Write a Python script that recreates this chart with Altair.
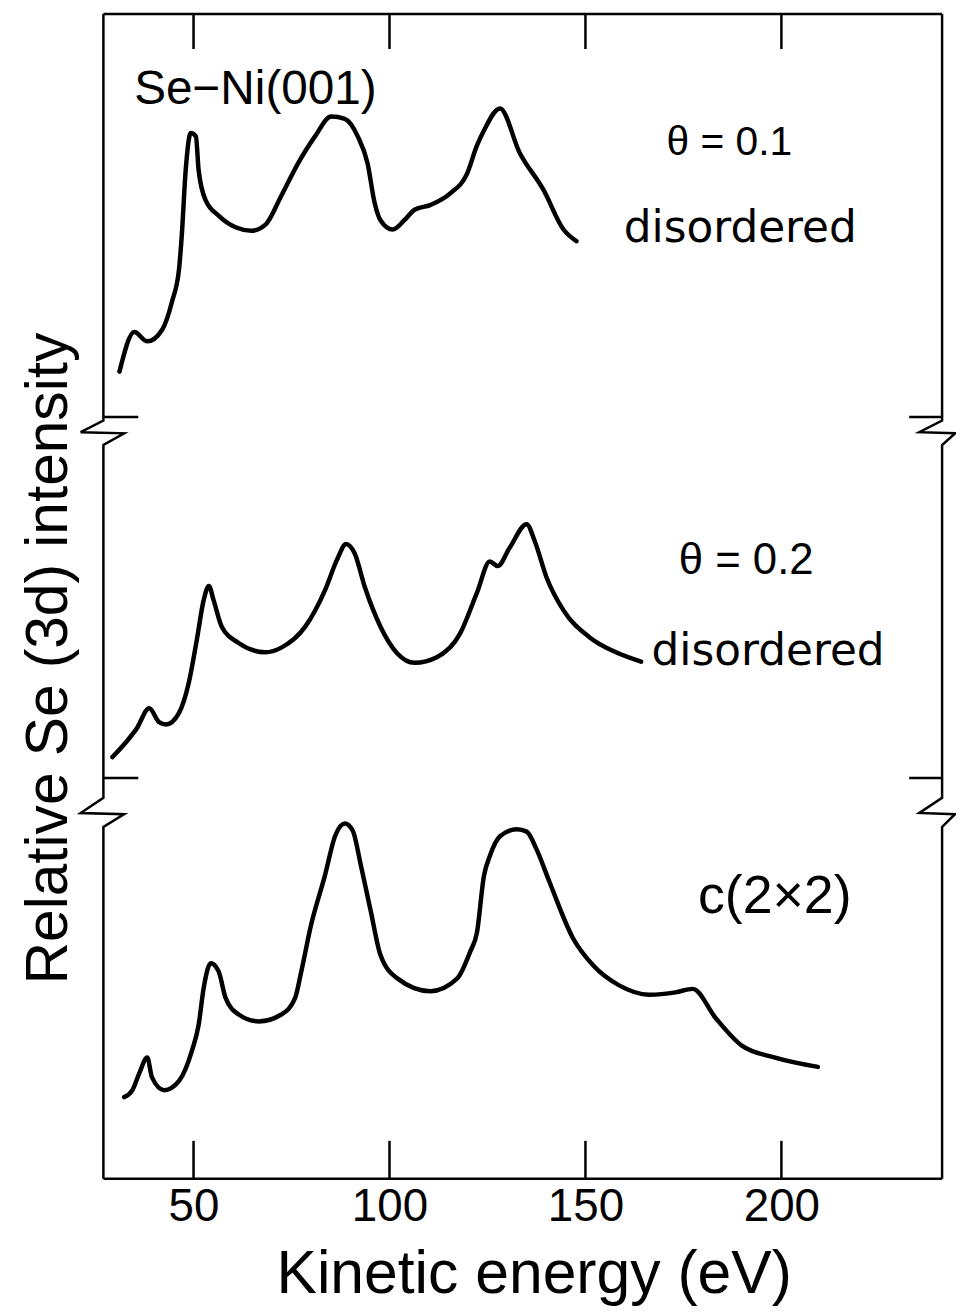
import altair as alt
import pandas as pd

# ---------------- data ----------------
# theta = 0.1, disordered (top curve)
c1_E = [31.1, 34.9, 38.2, 42.0, 44.5, 46.3, 47.0, 48.0, 49.3, 50.6, 51.3, 53.1, 56.4,
        60.7, 64.8, 68.3, 72.4, 76.7, 81.0, 85.1, 88.6, 91.9, 94.4, 96.2, 97.7, 100.8,
        103.8, 106.4, 110.4, 115.5, 119.8, 122.3, 124.1, 128.2, 133.2, 139.3, 144.4, 147.7]
c1_I = [69.3, 72.7, 71.9, 72.9, 75.3, 78.1, 81.0, 86.6, 89.8, 89.5, 86.6, 84.0, 82.7,
        81.7, 81.4, 81.9, 84.4, 87.2, 89.5, 91.2, 91.0, 89.5, 87.2, 83.8, 82.3, 81.5,
        82.3, 83.2, 83.6, 84.6, 86.3, 88.7, 90.0, 91.9, 88.1, 84.9, 81.5, 80.5]

# theta = 0.2, disordered (middle curve)
c2_E = [29.3, 32.8, 35.4, 38.7, 41.2, 43.0, 46.3, 48.8, 50.8, 52.6, 53.9, 55.1, 57.2,
        61.5, 68.3, 72.4, 78.5, 83.5, 86.8, 88.9, 91.1, 93.7, 97.7, 102.0, 106.4, 112.2,
        118.0, 122.3, 125.6, 127.6, 130.7, 135.0, 137.0, 140.1, 144.4, 151.0, 157.8, 164.2]
c2_I = [36.2, 37.5, 38.6, 40.4, 39.2, 39.0, 40.0, 42.6, 46.2, 49.7, 50.9, 49.7, 47.4,
        46.0, 45.2, 45.6, 47.4, 50.5, 53.3, 54.5, 53.7, 50.8, 47.4, 45.1, 44.3, 44.8,
        46.8, 50.3, 53.0, 52.6, 54.2, 56.2, 54.8, 51.6, 48.8, 46.5, 45.2, 44.4]

# c(2x2) (bottom curve)
c3_E = [32.3, 34.4, 36.1, 38.2, 39.4, 42.5, 46.3, 49.6, 51.3, 52.6, 54.4, 56.4, 58.2,
        61.5, 66.6, 72.4, 75.9, 77.5, 80.0, 83.5, 86.1, 88.6, 90.6, 92.7, 95.2, 97.7,
        102.0, 110.4, 117.3, 120.6, 122.3, 124.1, 125.6, 128.2, 132.5, 135.0, 137.5,
        140.8, 146.9, 152.0, 158.6, 166.2, 173.0, 177.4, 183.2, 190.0, 198.4, 209.3]
c3_I = [7.0, 7.6, 9.0, 10.4, 8.7, 7.6, 8.4, 11.0, 13.2, 16.4, 18.5, 17.8, 15.5,
        14.1, 13.5, 14.1, 15.5, 17.8, 21.8, 26.0, 29.4, 30.5, 29.9, 26.9, 23.0, 19.2,
        17.2, 16.1, 17.2, 19.5, 21.1, 26.0, 27.7, 29.4, 30.0, 29.8, 28.3,
        25.5, 20.6, 18.3, 16.6, 15.8, 16.0, 16.3, 13.8, 11.4, 10.4, 9.6]

x_ticks = [50, 100, 150, 200]
x_domain = [27, 241]
y_domain = [0, 100]

# axis breaks: (tick level, zig start, zig left point, zig right point, resume level)
breaks = [(65.4, 65.1, 64.1, 64.0, 63.0), (34.4, 32.7, 31.4, 31.3, 30.2)]

labels_sans = [
    ("Se\u2212Ni(001)", 65.8, 92.3, 48),
    ("\u03b8 = 0.1", 186.7, 87.9, 41),
    ("\u03b8 = 0.2", 191.0, 51.9, 44),
    ("c(2\u00d72)", 198.3, 22.8, 54),
]
labels_wide = [
    ("disordered", 189.5, 80.4, 44),
    ("disordered", 196.6, 44.1, 44),
]

# ---------------- tables ----------------
rows = []
for name, E, I in [("t01", c1_E, c1_I), ("t02", c2_E, c2_I), ("c2x2", c3_E, c3_I)]:
    for k, (e, i) in enumerate(zip(E, I)):
        rows.append({"series": name, "idx": k, "E": e, "I": i})
curves = pd.DataFrame(rows)

xmin, xmax = x_domain
ymin, ymax = y_domain

def side(edge, dl, dr):
    pts = [(edge, ymax)]
    for tk, zs, zl, zr, res in breaks:
        pts += [(edge, tk), (edge, zs), (edge + dl, zl), (edge + dr, zr), (edge, res)]
    pts.append((edge, ymin))
    return pts

frame_rows = []
for seg, pts in [("left", side(xmin, -5.8, 5.3)),
                 ("right", side(xmax, -5.8, 3.3)),
                 ("top", [(xmin, ymax), (xmax, ymax)]),
                 ("bottom", [(xmin, ymin), (xmax, ymin)])]:
    for k, (e, i) in enumerate(pts):
        frame_rows.append({"seg": seg, "idx": k, "E": e, "I": i})
frame = pd.DataFrame(frame_rows)

tick_rows = []
for t in x_ticks:
    tick_rows.append({"E": t, "E2": t, "I": ymax, "I2": ymax - 3.0})
    tick_rows.append({"E": t, "E2": t, "I": ymin, "I2": ymin + 3.25})
for tk, *_ in breaks:
    tick_rows.append({"E": xmin, "E2": xmin + 8.9, "I": tk, "I2": tk})
    tick_rows.append({"E": xmax, "E2": xmax - 8.4, "I": tk, "I2": tk})
ticks = pd.DataFrame(tick_rows)

# ---------------- chart ----------------
xs = alt.Scale(domain=x_domain, nice=False, zero=False)
ys = alt.Scale(domain=y_domain, nice=False, zero=False)

FONT = "Liberation Sans"
xaxis = alt.Axis(values=x_ticks, ticks=False, tickSize=0, domain=False, grid=False,
                 labelFont=FONT, labelFontSize=46, labelColor="black", labelPadding=6,
                 labelFlush=False,
                 title="Kinetic energy (eV)", titleFont=FONT, titleFontSize=61,
                 titleFontWeight="normal", titleColor="black", titleX=433, titleY=115,
                 titleBaseline="alphabetic", titleAlign="center")
yaxis = alt.Axis(labels=False, ticks=False, tickSize=0, domain=False, grid=False,
                 title="Relative Se (3d) intensity", titleFont=FONT, titleFontSize=59,
                 titleFontWeight="normal", titleColor="black", titleAngle=270,
                 titleX=-37, titleY=648, titleBaseline="alphabetic", titleAlign="center")

X = alt.X("E:Q", scale=xs, axis=xaxis)
Y = alt.Y("I:Q", scale=ys, axis=yaxis)

lines = alt.Chart(curves).mark_line(
    color="black", strokeWidth=4.5, interpolate="monotone",
    strokeCap="round", strokeJoin="round"
).encode(x=X, y=Y, detail="series:N", order="idx:Q")

frame_layer = alt.Chart(frame).mark_line(
    color="black", strokeWidth=2.5, clip=False, strokeJoin="miter"
).encode(x=X, y=Y, detail="seg:N", order="idx:Q")

tick_layer = alt.Chart(ticks).mark_rule(color="black", strokeWidth=2.5, clip=False).encode(
    x=X, x2="E2:Q", y=Y, y2="I2:Q")

def text_layer(items, font):
    df = pd.DataFrame([{"txt": t, "E": e, "I": i, "fs": fs} for t, e, i, fs in items])
    return alt.Chart(df).mark_text(
        font=font, color="black", align="center", baseline="alphabetic"
    ).encode(x=X, y=Y, text="txt:N", size=alt.Size("fs:Q", scale=None, legend=None))

chart = alt.layer(
    frame_layer, tick_layer, lines,
    text_layer(labels_sans, FONT),
    text_layer(labels_wide, "DejaVu Sans"),
).properties(
    width=844, height=1172,
    padding={"left": 96, "top": 2, "right": 14, "bottom": 124},
    autosize=alt.AutoSizeParams(type="none"),
    background="white",
).configure_view(stroke=None)

chart.save("out.html", embed_options={"renderer": "svg", "actions": False})
